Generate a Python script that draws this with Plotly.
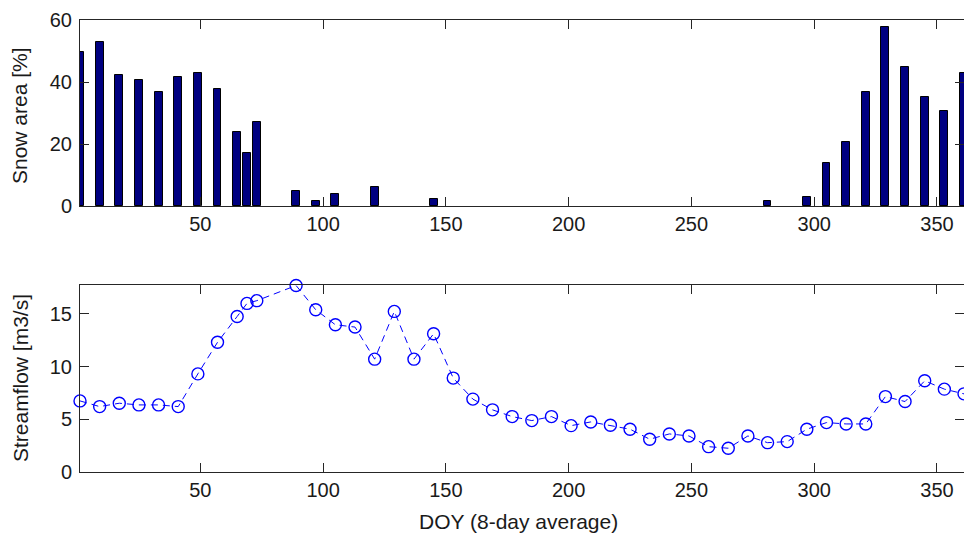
import plotly.graph_objects as go

# 8-day composite days of year (shared by both panels)
doy = [1, 9, 17, 25, 33, 41, 49, 57, 65, 69, 73, 89, 97, 105, 113, 121, 129, 137,
       145, 153, 161, 169, 177, 185, 193, 201, 209, 217, 225, 233, 241, 249, 257,
       265, 273, 281, 289, 297, 305, 313, 321, 329, 337, 345, 353, 361]

snow_area = [49.6, 52.8, 42.3, 40.6, 36.8, 41.7, 42.8, 37.8, 23.9, 17.2, 27.2, 4.9, 1.7,
             4.0, 0, 6.1, 0, 0, 2.3, 0, 0, 0, 0, 0, 0, 0, 0, 0, 0, 0, 0, 0, 0,
             0, 0, 1.7, 0, 2.8, 14.0, 20.6, 36.9, 57.8, 45.0, 35.2, 30.6, 42.9]

streamflow = [6.73, 6.19, 6.51, 6.35, 6.35, 6.19, 9.3, 12.3, 14.76, 16.0, 16.26, 17.7, 15.4,
              13.97, 13.75, 10.7, 15.24, 10.7, 13.11, 8.9, 6.9, 5.88, 5.24, 4.86, 5.24,
              4.38, 4.73, 4.42, 4.04, 3.09, 3.59, 3.4, 2.38, 2.23, 3.4, 2.76, 2.86, 4.04,
              4.67, 4.54, 4.54, 7.14, 6.67, 8.64, 7.85, 7.4]

x_ticks = [50, 100, 150, 200, 250, 300, 350]
snow_ticks = [0, 20, 40, 60]
flow_ticks = [0, 5, 10, 15]

W, H = 964, 536
FONT = "Liberation Sans, Arial, sans-serif"
TXT = "#1a1a1a"

# zero-height bars get no outline (as in the original, they are invisible)
edge_w = [1 if v > 0 else 0 for v in snow_area]

fig = go.Figure()
fig.add_trace(go.Bar(x=doy, y=snow_area, width=3.2,
                     marker=dict(color="#000080", line=dict(color="black", width=edge_w)),
                     xaxis="x", yaxis="y", showlegend=False))
fig.add_trace(go.Scatter(x=doy, y=streamflow, mode="lines+markers",
                         line=dict(color="#0000FF", width=1, dash="7px,5px"),
                         marker=dict(symbol="circle-open", size=12, color="#0000FF",
                                     line=dict(width=1.4, color="#0000FF")),
                         xaxis="x2", yaxis="y2", showlegend=False, cliponaxis=False))

axis_common = dict(showline=True, linecolor="#262626", linewidth=1, ticks="inside",
                   ticklen=9, tickcolor="#262626", tickwidth=1, showgrid=False,
                   zeroline=False, automargin=False,
                   tickfont=dict(family=FONT, size=20, color=TXT))

xd = [80 / W, 1.0]
title_font = dict(family=FONT, size=21, color=TXT)
fig.update_layout(
    width=W, height=H, margin=dict(l=0, r=0, t=0, b=0, pad=0, autoexpand=False),
    paper_bgcolor="white", plot_bgcolor="white",
    bargap=0,
    xaxis=dict(domain=xd, range=[1, 361], tickvals=x_ticks, anchor="y",
               mirror="allticks", **axis_common),
    yaxis=dict(domain=[(H - 206) / H, (H - 20) / H], range=[0, 60], tickvals=snow_ticks,
               anchor="x", mirror="ticks", ticklabelstandoff=3, **axis_common),
    xaxis2=dict(domain=xd, range=[1, 361], tickvals=x_ticks, anchor="y2",
                mirror="allticks", **axis_common),
    yaxis2=dict(domain=[(H - 471.7) / H, (H - 285) / H], range=[0, 17.75],
                tickvals=flow_ticks, anchor="x2", mirror="ticks", ticklabelstandoff=3,
                **axis_common),
    annotations=[
        dict(text="Snow area [%]", x=20 / W, y=(H - 116) / H, xref="paper", yref="paper",
             xanchor="center", yanchor="middle",
             textangle=-90, showarrow=False, font=title_font),
        dict(text="Streamflow [m3/s]", x=20 / W, y=(H - 378) / H, xref="paper", yref="paper",
             xanchor="center", yanchor="middle",
             textangle=-90, showarrow=False, font=title_font),
        dict(text="DOY (8-day average)", x=518 / W, y=(H - 521) / H, xref="paper",
             yref="paper", xanchor="center", yanchor="middle",
             showarrow=False, font=title_font),
    ],
)

fig.write_html("out.html")
